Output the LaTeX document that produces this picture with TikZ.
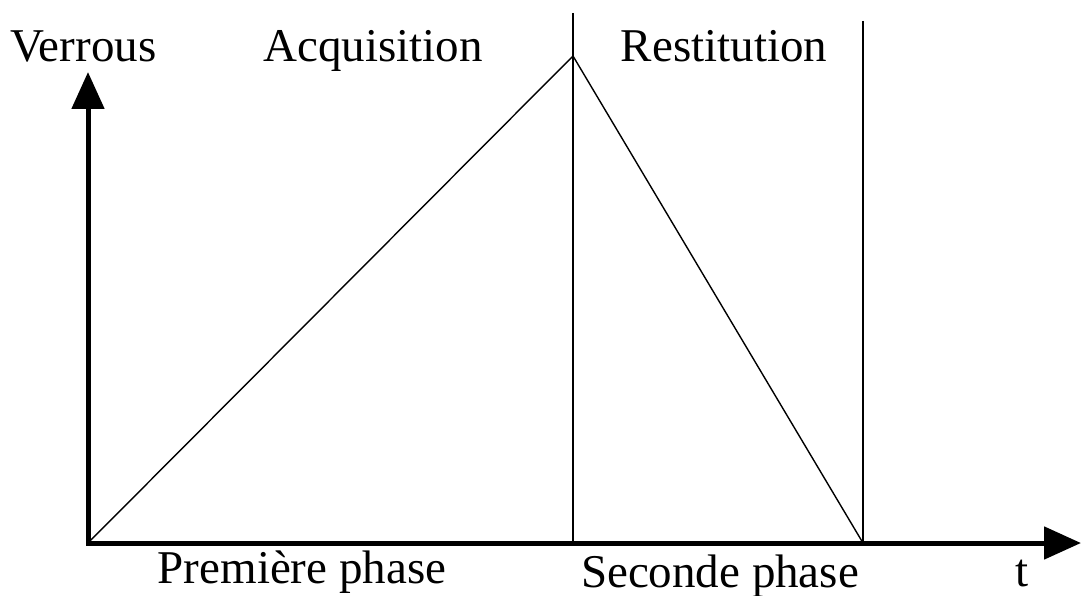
\documentclass[tikz,border=0pt]{standalone}
\usepackage{fontspec}
\setmainfont{Liberation Serif}
\usetikzlibrary{arrows.meta}
\begin{document}
\begin{tikzpicture}[x=1pt,y=-1pt,
  axis/.style={line width=5pt,-{Triangle[length=37pt,width=32pt]}},
  thin/.style={line width=1.4pt},
  lbl/.style={inner sep=0pt,anchor=base,font=\fontsize{47}{50}\selectfont}]
\useasboundingbox (0,0) rectangle (1082,596);
\coordinate (O) at (88,543);
\coordinate (P) at (573,56);
\coordinate (E) at (863,543);
\coordinate (V1t) at (573,13);
\coordinate (V1b) at (573,543);
\coordinate (V2t) at (863,21);
\coordinate (V2b) at (863,543);
\coordinate (Yend) at (88,72);
\coordinate (Xend) at (1081,543);
\draw[thin] (V1t) -- (V1b);
\draw[thin] (V2t) -- (V2b);
\draw[thin] (O) -- (P) -- (E);
\draw[axis] (86,543) -- (Xend);
\draw[axis] (88,545) -- (Yend);
\node[lbl,anchor=base west] (verrous) at (10,62) {Verrous};
\node[lbl] (acq) at (373,62) {Acquisition};
\node[lbl] (rest) at (724,62) {Restitution};
\node[lbl] (prem) at (302,583) {Première phase};
\node[lbl] (sec) at (720,587) {Seconde phase};
\node[lbl] (t) at (1022,586) {t};
\end{tikzpicture}
\end{document}
